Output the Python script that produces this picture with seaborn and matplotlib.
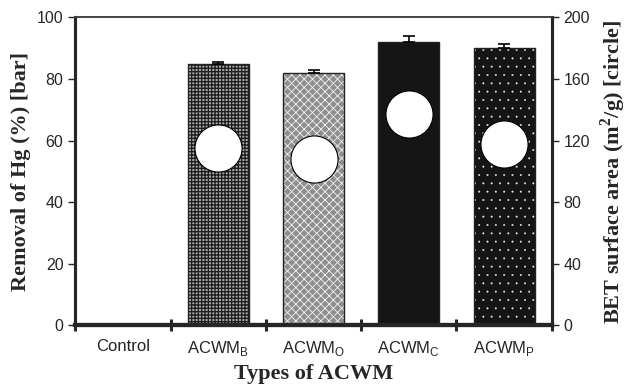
import numpy as np
import pandas as pd
import seaborn as sns
import matplotlib.pyplot as plt
from matplotlib.patches import Rectangle
from matplotlib.ticker import FixedLocator, NullFormatter

categories = ['Control', 'ACWM$_\\mathregular{B}$', 'ACWM$_\\mathregular{O}$',
              'ACWM$_\\mathregular{C}$', 'ACWM$_\\mathregular{P}$']
removal = [0, 85, 82, 92, 90]
removal_err = [0, 0.5, 1.0, 2.0, 1.2]
bet_area = [np.nan, 115, 108, 137, 118]

face_colors = ['white', '#a8a8a8', '#8e8e8e', '#151515', '#151515']
hatch_colors = ['white', '#1a1a1a', '#f4f4f4', '#151515', '#e8e8e8']
hatches = ['', '+++++', 'xxxx', '', '..']
hatch_widths = [0.5, 0.9, 0.6, 0.5, 0.2]

sns.set_style('ticks')
plt.rcParams['font.family'] = ['Liberation Sans', 'DejaVu Sans']
plt.rcParams['mathtext.fontset'] = 'custom'
plt.rcParams['mathtext.rm'] = 'Liberation Sans'

df = pd.DataFrame({'type': categories, 'removal': removal, 'bet': bet_area})

fig, ax = plt.subplots(figsize=(6.27, 3.86), dpi=100)
fig.subplots_adjust(left=0.12, right=0.88, top=0.955, bottom=0.157)

sns.barplot(data=df, x='type', y='removal', ax=ax, width=0.64, color='white')
for patch, fc, hc, h, hw in zip(ax.patches, face_colors, hatch_colors, hatches, hatch_widths):
    patch.set_facecolor(fc)
    patch.set_edgecolor(hc)
    patch.set_hatch(h)
    if hasattr(patch, 'set_hatch_linewidth'):
        patch.set_hatch_linewidth(hw)
    patch.set_linewidth(0)
    ax.add_patch(Rectangle((patch.get_x(), patch.get_y()), patch.get_width(),
                           patch.get_height(), fill=False, edgecolor='#222222',
                           linewidth=1.0, zorder=3))

xpos = np.arange(len(categories))
ax.errorbar(xpos[1:], removal[1:], yerr=[np.zeros(4), removal_err[1:]],
            fmt='none', ecolor='black', elinewidth=1.2, capsize=4, capthick=1.2, zorder=4)

ax.set_ylim(0, 100)
ax.set_xlim(-0.5, 4.5)
ax.set_yticks(range(0, 101, 20))
ax.set_ylabel('Removal of Hg (%) [bar]', family=['Liberation Serif'],
              fontweight='bold', fontsize=16, labelpad=4)
ax.set_xlabel('Types of ACWM', family=['Liberation Serif'],
              fontweight='bold', fontsize=16, labelpad=4)
ax.tick_params(axis='y', labelsize=11.5, direction='out', length=5, width=1)
ax.tick_params(axis='x', which='major', length=0, labelsize=12, pad=10)
ax.xaxis.set_minor_locator(FixedLocator(np.arange(-0.5, 5, 1)))
ax.xaxis.set_minor_formatter(NullFormatter())
ax.tick_params(axis='x', which='minor', direction='inout', length=9, width=2.2)

for side in ['left', 'right']:
    ax.spines[side].set_linewidth(2.2)
ax.spines['bottom'].set_linewidth(3)
ax.spines['top'].set_visible(True)
ax.spines['top'].set_linewidth(1.2)
ax.spines['top'].set_color('#444444')

ax2 = ax.twinx()
sns.scatterplot(data=df, x='type', y='bet', ax=ax2, s=1150, color='white',
                edgecolor='black', linewidth=0.8, zorder=5, legend=False)
ax2.set_ylim(0, 200)
ax2.set_yticks(range(0, 201, 40))
ax2.tick_params(axis='y', labelsize=11.5, direction='out', length=5, width=1)
ax2.set_ylabel('BET surface area (m$^\\mathregular{2}$/g) [circle]',
               family=['Liberation Serif'], fontweight='bold', fontsize=16, labelpad=6)
ax2.spines['right'].set_linewidth(2.2)
ax2.spines['left'].set_linewidth(2.2)
ax2.spines['bottom'].set_linewidth(3)
ax2.spines['top'].set_linewidth(1.2)
ax2.spines['top'].set_color('#444444')

plt.savefig('out.png', dpi=100)
